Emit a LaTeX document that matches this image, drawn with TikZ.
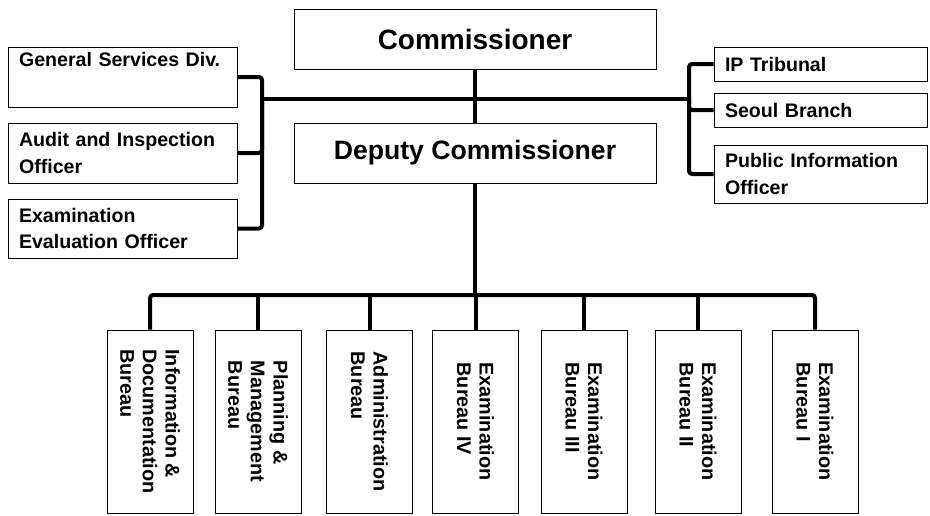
\documentclass[tikz,border=0pt]{standalone}
\usepackage{fontspec}
\setmainfont{Liberation Sans}
\usetikzlibrary{arrows}

\begin{document}
\begin{tikzpicture}[x=0.5pt, y=-0.5pt,
  links/.style={line width=2pt, line join=round, rounded corners=1.5pt},
  head/.style={draw, line width=0.5pt, minimum width=181pt, minimum height=30pt,
    font=\fontsize{14}{16}\selectfont\bfseries},
  office/.style={draw, line width=0.5pt, align=left, inner xsep=5.5pt, inner ysep=0pt,
    font=\fontsize{9.8}{13.3}\selectfont\bfseries},
  bureau/.style={draw, line width=0.5pt, rotate=-90, align=left, inner sep=0pt,
    minimum width=91.5pt, minimum height=43pt,
    font=\fontsize{9.9}{11.3}\selectfont\bfseries}]

 \useasboundingbox (0,0) rectangle (930,515);

 \node [head] (commissioner) at (475,39) {Commissioner};

 \node [head, font=\fontsize{13.3}{16}\selectfont\bfseries] (deputy) at (475,153)
     {Deputy Commissioner};


 \node [office, text width=103.5pt, minimum height=30pt] (general_div) at (122.5,77)
     {General Services Div.\\\strut};

 \node [office, text width=103.5pt, minimum height=30pt] (audit_off) at (122.5,153)
     {Audit and Inspection\\Officer};

 \node [office, text width=103.5pt, minimum height=29.5pt] (evaluation_off) at (122.5,228.5)
     {Examination\\Evaluation Officer};


 \node [office, text width=95.5pt, minimum height=17pt] (ip_tribunal) at (820.5,64)
     {IP Tribunal};

 \node [office, text width=95.5pt, minimum height=17pt] (seoul_branch) at (820.5,110)
     {Seoul Branch};

 \node [office, text width=95.5pt, minimum height=29pt] (public_off) at (820.5,174)
     {Public Information\\Officer};


 \node [bureau] (bureau_1) at (150,421.5)
     {Information \&\\Documentation\\Bureau};

 \node [bureau] (bureau_2) at (258,421.5)
     {Planning \&\\Management\\Bureau};

 \node [bureau] (bureau_3) at (369.5,421.5)
     {Administration\\Bureau};

 \node [bureau] (bureau_4) at (475.5,421.5)
     {Examination\\Bureau IV};

 \node [bureau] (bureau_5) at (584,421.5)
     {Examination\\Bureau III};

 \node [bureau] (bureau_6) at (698,421.5)
     {Examination\\Bureau II};

 \node [bureau] (bureau_7) at (815,421.5)
     {Examination\\Bureau I};


 \coordinate (left_bus) at (262,99);
 \coordinate (right_bus) at (689,99);
 \coordinate (bottom_bus) at (475,295);


 \draw [links] (commissioner) -- (deputy);
 \draw [links] (left_bus) -- (right_bus);

 \draw [links] (general_div) -| (left_bus);
 \draw [links] (audit_off) -| (left_bus);
 \draw [links] (evaluation_off) -| (left_bus);

 \draw [links] (ip_tribunal) -| (right_bus);
 \draw [links] (seoul_branch) -| (right_bus);
 \draw [links] (public_off) -| (right_bus);

 \draw [links] (deputy) -- (bottom_bus);
 \draw [links] (bureau_1.west) |- (bottom_bus) -| (bureau_7.west);
 \draw [links] (bureau_2.west) -- (bureau_2.west |- bottom_bus);
 \draw [links] (bureau_3.west) -- (bureau_3.west |- bottom_bus);
 \draw [links] (bureau_4.west) -- (bureau_4.west |- bottom_bus);
 \draw [links] (bureau_5.west) -- (bureau_5.west |- bottom_bus);
 \draw [links] (bureau_6.west) -- (bureau_6.west |- bottom_bus);

\end{tikzpicture}
\end{document}
